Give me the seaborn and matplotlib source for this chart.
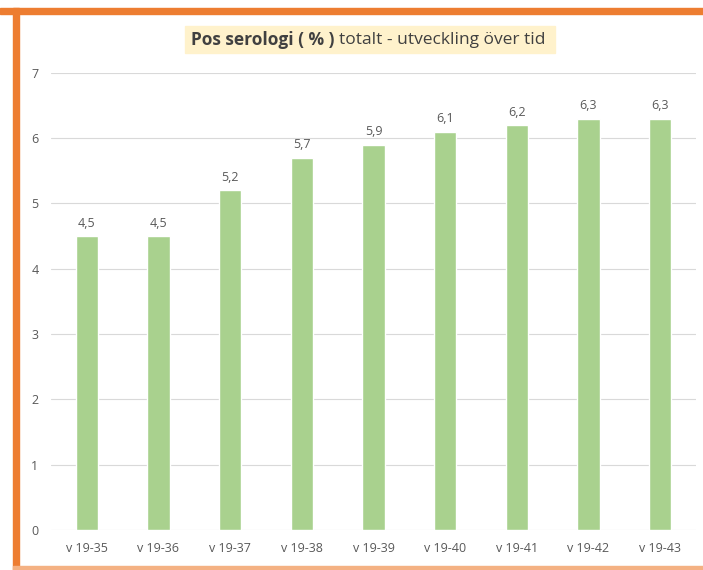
import matplotlib
matplotlib.use("Agg")
import matplotlib.pyplot as plt
from matplotlib.patches import Rectangle
import seaborn as sns
import pandas as pd

weeks = ["v 19-35", "v 19-36", "v 19-37", "v 19-38", "v 19-39",
         "v 19-40", "v 19-41", "v 19-42", "v 19-43"]
pos_pct = [4.5, 4.5, 5.2, 5.7, 5.9, 6.1, 6.2, 6.3, 6.3]
y_ticks = [0, 1, 2, 3, 4, 5, 6, 7]

bar_green = "#A9D18E"
txt_grey = "#595959"
orange = "#ED7D31"

sns.set_style("white")
plt.rcParams["font.family"] = ["Open Sans", "DejaVu Sans"]

df = pd.DataFrame({"week": weeks, "pct": pos_pct})

fig = plt.figure(figsize=(7.03, 5.70), dpi=100)
ax = fig.add_axes([0.0725, 0.0702, 0.9175, 0.802])

sns.barplot(data=df, x="week", y="pct", color=bar_green, width=0.31,
            saturation=1, ax=ax)

# value labels with decimal comma
for i, v in enumerate(pos_pct):
    ax.text(i, v + 0.1, f"{v:.1f}".replace(".", ","), ha="center",
            va="bottom", fontsize=9, color=txt_grey)

ax.set_ylim(0, 7)
ax.set_xlim(-0.5, len(weeks) - 0.5)
ax.set_yticks(y_ticks)
ax.yaxis.grid(True, color="#D9D9D9", linewidth=0.8)
ax.set_axisbelow(True)
ax.tick_params(axis="both", length=0, labelsize=9, colors=txt_grey, pad=9)
ax.set_xlabel("")
ax.set_ylabel("")
for s in ax.spines.values():
    s.set_visible(False)

# title: highlighted bold part + plain part
fig.patches.append(Rectangle((185 / 703, 1 - 53 / 570), 370 / 703, 27 / 570,
                             transform=fig.transFigure, color="#FFF2CC",
                             zorder=0))
t1 = fig.text(191 / 703, 1 - 40 / 570, "Pos serologi ( % )", fontsize=12.5,
              fontweight="bold", color="#404040", va="center", ha="left")
fig.canvas.draw()
bb = t1.get_window_extent()
fig.text(bb.x1 / fig.bbox.width + 0.006, 1 - 40 / 570,
         "totalt - utveckling över tid", fontsize=12.5, color="#404040",
         va="center", ha="left")

# orange frame (top, left, bottom)
fig.patches.append(Rectangle((0, 1 - 14 / 570), 1, 6 / 570,
                             transform=fig.transFigure, color=orange))
fig.patches.append(Rectangle((13 / 703, 0), 6 / 703, 1 - 8 / 570,
                             transform=fig.transFigure, color=orange))
fig.patches.append(Rectangle((13 / 703, 0), 1, 4 / 570,
                             transform=fig.transFigure, color="#F4B183"))

fig.savefig("out.png", dpi=100)
